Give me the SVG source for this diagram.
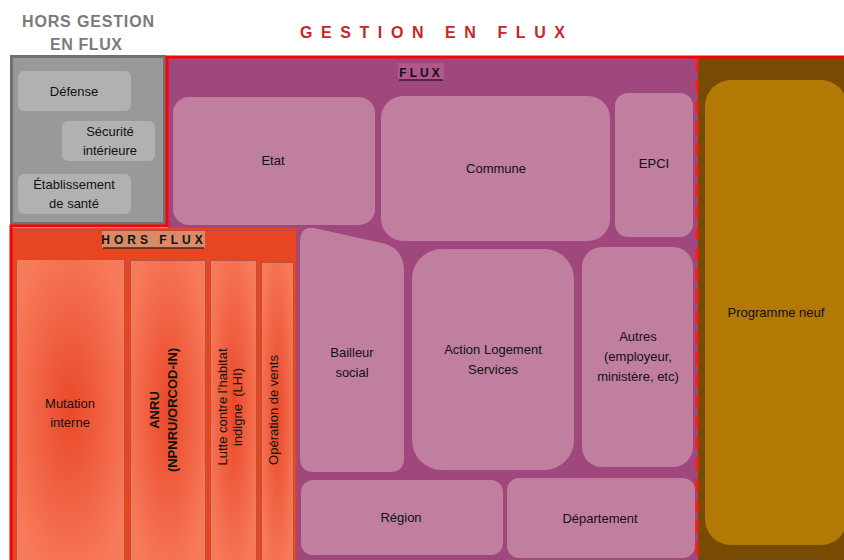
<svg xmlns="http://www.w3.org/2000/svg" width="844" height="560" viewBox="0 0 844 560">
<style>
  .t { font-family: "Liberation Sans", "Noto Sans", sans-serif; font-size: 13px; fill: #111; text-anchor: middle; }
  .tb { font-family: "Liberation Sans", "Noto Sans", sans-serif; font-size: 13px; font-weight: bold; fill: #111; text-anchor: middle; }
  .pink { fill: #c07f9e; }
  .grayin { fill: #b1b1b1; }
  .col { fill: url(#og); stroke: #7a4a40; stroke-width: 1; stroke-dasharray: 1 1; }
  .hdr { font-family: "Liberation Sans", "Noto Sans", sans-serif; font-weight: bold; text-anchor: middle; }
  .hdrs { font-family: "Liberation Sans", "Noto Sans", sans-serif; font-weight: bold; text-anchor: start; }
</style>
<defs>
  <radialGradient id="og" cx="50%" cy="50%" r="60%">
    <stop offset="0" stop-color="#e9492a"/>
    <stop offset="1" stop-color="#f77b5b"/>
  </radialGradient>
</defs>
<rect width="844" height="560" fill="#ffffff"/>

<!-- titles -->
<g id="title-hors-gestion">
  <text class="hdrs" x="22" y="27" font-size="16" fill="#7a7a7a" textLength="132" lengthAdjust="spacing">HORS GESTION</text>
  <text class="hdrs" x="50" y="50" font-size="16" fill="#7a7a7a" textLength="72" lengthAdjust="spacing">EN FLUX</text>
</g>
<g id="title-gestion">
  <text class="hdrs" x="300" y="38" font-size="16" fill="#c9262b" textLength="265" lengthAdjust="spacing">GESTION EN FLUX</text>
</g>

<!-- areas -->
<g id="area-flux">
  <rect x="168" y="58" width="530" height="502" fill="#a0487e"/>
  <rect x="398" y="63" width="46" height="17" fill="#b0578d"/>
  <text class="hdr" x="421" y="77" font-size="12" fill="#111" letter-spacing="3">FLUX</text>
  <line x1="399" y1="80" x2="443" y2="80" stroke="#3a1a30" stroke-width="1.5"/>
</g>
<g id="area-programme">
  <rect x="698" y="58" width="146" height="502" fill="#774b04"/>
</g>
<g id="area-hors-gestion">
  <rect x="11.5" y="56.5" width="153" height="167" fill="#999999" stroke="#707070" stroke-width="3"/>
</g>
<g id="area-hors-flux">
  <rect x="12" y="228" width="285" height="332" fill="#e84621"/>
  <rect x="12.5" y="230.5" width="284" height="330" fill="none" stroke="#8a4a70" stroke-width="1" stroke-dasharray="1 1"/>
  <rect x="102" y="231" width="103" height="17" fill="#d98a66"/>
  <text class="hdr" x="154" y="244" font-size="12" fill="#111" letter-spacing="4">HORS FLUX</text>
  <line x1="103" y1="248" x2="204" y2="248" stroke="#3a2a20" stroke-width="1.5"/>
</g>

<!-- outlines -->
<g id="connectors">
  <path d="M11 560 L11 226 L167 226 L167 57 L844 57" fill="none" stroke="#ff0000" stroke-width="3"/>
  <line x1="697" y1="58" x2="697" y2="560" stroke="#ff1a1a" stroke-width="3" stroke-dasharray="14 7"/>
</g>

<!-- hors gestion nodes -->
<g id="node-defense">
  <rect class="grayin" x="18" y="71" width="113" height="40" rx="6"/>
  <text class="t" x="74" y="96">Défense</text>
</g>
<g id="node-securite">
  <rect class="grayin" x="62" y="121" width="93" height="40" rx="6"/>
  <text class="t" x="110" y="136">Sécurité</text>
  <text class="t" x="110" y="155">intérieure</text>
</g>
<g id="node-etablissement">
  <rect class="grayin" x="18" y="174" width="113" height="40" rx="6"/>
  <text class="t" x="74" y="189">Établissement</text>
  <text class="t" x="74" y="208">de santé</text>
</g>

<!-- flux nodes -->
<g id="node-etat">
  <rect class="pink" x="173" y="97" width="202" height="128" rx="16"/>
  <text class="t" x="273" y="165">Etat</text>
</g>
<g id="node-commune">
  <rect class="pink" x="381" y="96" width="229" height="145" rx="22"/>
  <text class="t" x="496" y="173">Commune</text>
</g>
<g id="node-epci">
  <rect class="pink" x="615" y="93" width="78" height="144" rx="13"/>
  <text class="t" x="654" y="168">EPCI</text>
</g>
<g id="node-bailleur">
  <path class="pink" d="M314 228 L386 244 Q404 250 404 272 L404 458 Q404 472 390 472 L314 472 Q300 472 300 458 L300 242 Q300 226 314 228 Z"/>
  <text class="t" x="352" y="357">Bailleur</text>
  <text class="t" x="352" y="377">social</text>
</g>
<g id="node-action-logement">
  <rect class="pink" x="412" y="249" width="162" height="221" rx="30"/>
  <text class="t" x="493" y="354">Action Logement</text>
  <text class="t" x="493" y="374">Services</text>
</g>
<g id="node-autres">
  <rect class="pink" x="582" y="247" width="111" height="220" rx="20"/>
  <text class="t" x="638" y="341">Autres</text>
  <text class="t" x="638" y="361">(employeur,</text>
  <text class="t" x="638" y="381">ministère, etc)</text>
</g>
<g id="node-region">
  <rect class="pink" x="301" y="480" width="202" height="75" rx="12"/>
  <text class="t" x="401" y="522">Région</text>
</g>
<g id="node-departement">
  <rect class="pink" x="507" y="478" width="188" height="80" rx="12"/>
  <text class="t" x="600" y="523">Département</text>
</g>

<!-- programme neuf -->
<g id="node-programme-neuf">
  <rect x="705" y="80" width="142" height="465" rx="26" fill="#b37905"/>
  <text class="t" x="776" y="317">Programme neuf</text>
</g>

<!-- hors flux nodes -->
<g id="node-mutation">
  <rect class="col" x="16.5" y="259.5" width="108" height="302"/>
  <text class="t" x="70" y="408">Mutation</text>
  <text class="t" x="70" y="427">interne</text>
</g>
<g id="node-anru">
  <rect class="col" x="130.5" y="260.5" width="75" height="301"/>
  <g transform="translate(159,410) rotate(-90)">
    <text class="tb" x="0" y="0">ANRU</text>
    <text class="tb" x="0" y="18">(NPNRU/ORCOD-IN)</text>
  </g>
</g>
<g id="node-lhi">
  <rect class="col" x="210.5" y="260.5" width="46" height="301"/>
  <g transform="translate(227,407) rotate(-90)">
    <text class="t" x="0" y="0">Lutte contre l’habitat</text>
    <text class="t" x="0" y="15" xml:space="preserve">indigne  (LHI)</text>
  </g>
</g>
<g id="node-vente">
  <rect class="col" x="261.5" y="262.5" width="32" height="299"/>
  <g transform="translate(278,410) rotate(-90)">
    <text class="t" x="0" y="0">Opération de vents</text>
  </g>
</g>
</svg>
